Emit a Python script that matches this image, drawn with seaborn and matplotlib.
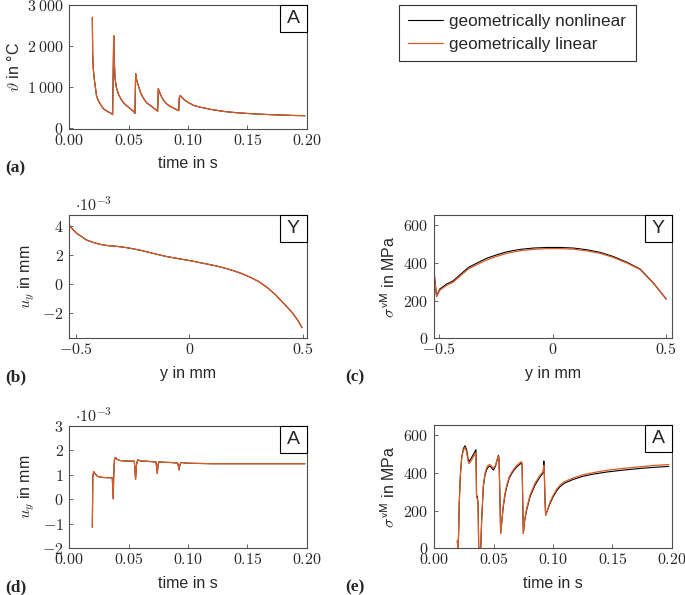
import matplotlib
matplotlib.use("Agg")
import matplotlib.pyplot as plt
from matplotlib.patches import Rectangle
import seaborn as sns

# (a) temperature at point A over time
t_a = [0.0194, 0.0197, 0.0202, 0.0210, 0.0217, 0.0230, 0.0245, 0.0265, 0.0287, 0.0310, 0.0330, 0.0350, 0.0365,
       0.0374, 0.0378, 0.0385, 0.0395, 0.0413, 0.0435, 0.0455, 0.0480, 0.0500, 0.0520, 0.0540, 0.0553,
       0.0559, 0.0565, 0.0582, 0.0600, 0.0615, 0.0632, 0.0652, 0.0675, 0.0694, 0.0715, 0.0736, 0.0744,
       0.0750, 0.0760, 0.0778, 0.0800, 0.0820, 0.0840, 0.0863, 0.0890, 0.0913, 0.0922,
       0.0926, 0.0935, 0.0950, 0.0975, 0.1000, 0.1050, 0.1100, 0.1200, 0.1300, 0.1400, 0.1500, 0.1600,
       0.1700, 0.1800, 0.1900, 0.1985]
temp_a = [2700, 1800, 1450, 1200, 1050, 770, 660, 560, 465, 420, 385, 360, 320,
          2250, 1700, 1230, 1000, 830, 700, 620, 545, 500, 450, 405, 350,
          1320, 1200, 1025, 860, 770, 690, 610, 560, 520, 470, 430, 400,
          960, 870, 750, 650, 585, 540, 505, 465, 430, 420,
          720, 790, 740, 670, 620, 545, 505, 445, 400, 370, 350, 333,
          320, 310, 300, 295]

# (b) displacement u_y along Y (values in 1e-3 mm)
y_b = [-0.528, -0.515, -0.498, -0.475, -0.454, -0.425, -0.395, -0.360, -0.321, -0.285, -0.248, -0.210,
       -0.174, -0.137, -0.100, -0.064, -0.027, 0.010, 0.047, 0.084, 0.121, 0.158, 0.195, 0.232,
       0.269, 0.305, 0.342, 0.379, 0.416, 0.455, 0.480, 0.497]
uy_b = [4.00, 3.75, 3.49, 3.25, 3.03, 2.87, 2.74, 2.65, 2.60, 2.53, 2.43, 2.31,
        2.17, 2.03, 1.90, 1.80, 1.70, 1.60, 1.48, 1.37, 1.25, 1.10, 0.93, 0.73,
        0.48, 0.20, -0.20, -0.70, -1.30, -1.95, -2.50, -2.97]

# (c) von Mises stress along Y
y_c = [-0.522, -0.512, -0.497, -0.468, -0.438, -0.409, -0.372, -0.335, -0.291, -0.247, -0.203, -0.144,
       -0.086, -0.026, 0.032, 0.091, 0.150, 0.209, 0.267, 0.326, 0.385, 0.444, 0.500]
svm_c_nl = [340, 225, 262, 287, 305, 336, 375, 398, 424, 442, 458, 471,
            478, 481, 481, 478, 469, 455, 433, 403, 367, 292, 208]
svm_c_lin = [335, 220, 255, 280, 298, 329, 367, 390, 415, 434, 450, 464,
             471, 475, 475, 472, 463, 450, 428, 399, 364, 290, 207]

# (d) displacement u_y at A over time (values in 1e-3 mm)
t_d = [0.0194, 0.0198, 0.0205, 0.0215, 0.0240, 0.0280, 0.0320, 0.0362, 0.0370, 0.0374, 0.0380, 0.0388,
       0.0400, 0.0425, 0.0480, 0.0548, 0.0553, 0.0558, 0.0566, 0.0576, 0.0600, 0.0650, 0.0730, 0.0736,
       0.0741, 0.0748, 0.0757, 0.0780, 0.0850, 0.0912, 0.0918, 0.0924, 0.0932, 0.0940, 0.1000, 0.1200,
       0.1500, 0.1985]
uy_d = [-1.14, 0.90, 1.13, 1.05, 0.93, 0.89, 0.88, 0.88, 0.02, 0.90, 1.60, 1.71,
        1.64, 1.58, 1.56, 1.55, 1.20, 0.81, 1.40, 1.61, 1.56, 1.55, 1.52, 1.30,
        1.06, 1.40, 1.54, 1.51, 1.50, 1.48, 1.38, 1.20, 1.40, 1.50, 1.47, 1.45,
        1.45, 1.45]

# (e) von Mises stress at A over time
t_e = [0.0194, 0.0198, 0.0204, 0.0210, 0.0220, 0.0231, 0.0245, 0.0259, 0.0272, 0.0284, 0.0292, 0.0310, 0.0330, 0.0351,
       0.0356, 0.0362, 0.0369, 0.0374, 0.0384, 0.0391,
       0.0399, 0.0413, 0.0427, 0.0441, 0.0455, 0.0469, 0.0483, 0.0497, 0.0515, 0.0530, 0.0540, 0.0545, 0.0552, 0.0559,
       0.0570, 0.0581, 0.0595, 0.0610, 0.0630, 0.0652, 0.0675, 0.0694, 0.0712, 0.0728, 0.0735, 0.0740, 0.0745, 0.0750,
       0.0762, 0.0778, 0.0806, 0.0848, 0.0890, 0.0913, 0.0918, 0.0923, 0.0927, 0.0933, 0.0938,
       0.0955, 0.0975, 0.1000, 0.1030, 0.1060, 0.1100, 0.1171, 0.1250, 0.1330, 0.1450, 0.1600, 0.1730, 0.1850, 0.1975]
svm_e_nl = [40, 2, 60, 238, 390, 485, 530, 545, 525, 478, 460, 478, 500, 524,
            282, 275, 240, 0, 0, 0,
            150, 326, 388, 418, 432, 437, 428, 415, 435, 470, 494, 480, 300, 79,
            150, 220, 280, 326, 370, 397, 418, 432, 442, 450, 455, 440, 250, 79,
            150, 203, 273, 335, 379, 397, 405, 464, 400, 250, 176,
            205, 238, 272, 305, 328, 347, 366, 382, 393, 405, 416, 424, 430, 435]
svm_e_lin = [40, 2, 60, 240, 392, 480, 522, 535, 512, 465, 450, 465, 488, 505,
             270, 265, 232, 0, 0, 0,
             152, 335, 398, 428, 442, 445, 436, 425, 440, 472, 490, 476, 298, 79,
             155, 228, 290, 335, 378, 404, 425, 440, 450, 458, 460, 445, 252, 79,
             155, 210, 282, 345, 388, 405, 412, 440, 398, 248, 176,
             208, 245, 280, 313, 336, 355, 374, 390, 401, 414, 425, 433, 440, 445]

time_ticks = [0.0, 0.05, 0.10, 0.15, 0.20]
time_labels = ["$0.00$", "$0.05$", "$0.10$", "$0.15$", "$0.20$"]
y_ticks = [-0.5, 0, 0.5]
y_labels = ["$-0.5$", "$0$", "$0.5$"]

NL_COLOR = "black"
LIN_COLOR = "#dc5b26"

sns.set_style("ticks")
plt.rcParams["font.family"] = ["Liberation Sans", "DejaVu Sans"]
plt.rcParams["mathtext.fontset"] = "cm"
plt.rcParams["axes.edgecolor"] = "0.3"
plt.rcParams["axes.linewidth"] = 0.8

W, H = 685, 595
fig = plt.figure(figsize=(W / 100, H / 100), dpi=100)


def px_axes(left, top, right, bottom):
    return fig.add_axes([left / W, 1 - bottom / H, (right - left) / W, (bottom - top) / H])


def draw(ax, x, y_nl, y_lin):
    sns.lineplot(x=x, y=y_nl, ax=ax, color=NL_COLOR, lw=0.8, sort=False, estimator=None)
    sns.lineplot(x=x, y=y_lin, ax=ax, color=LIN_COLOR, lw=0.9, sort=False, estimator=None)


def style(ax, xlim, ylim, xt, xl, yt, yl, xlabel, ylabel, tag, panel, panel_x):
    ax.set_xlim(*xlim)
    ax.set_ylim(*ylim)
    ax.set_xticks(xt, xl)
    ax.set_yticks(yt, yl)
    ax.tick_params(direction="in", length=3, width=0.6, color="0.3", labelsize=11.5)
    ax.tick_params(axis="x", pad=3)
    ax.tick_params(axis="y", pad=4)
    ax.set_xlabel(xlabel, fontsize=11.5, labelpad=6)
    ax.set_ylabel(ylabel, fontsize=11.5, labelpad=4)
    # tag box in the upper right corner
    bb = ax.get_position()
    wf = 27 / (bb.width * W)
    hf = 27 / (bb.height * H)
    ax.add_patch(Rectangle((1 - wf, 1 - hf), wf, hf, transform=ax.transAxes,
                           fc="white", ec="black", lw=0.8, zorder=5, clip_on=False))
    ax.text(1 - wf / 2, 1 - hf / 2, tag, transform=ax.transAxes, ha="center", va="center",
            fontsize=14, zorder=6)
    bottom_px = (1 - bb.y0) * H
    fig.text(panel_x / W, 1 - (bottom_px + 43) / H, panel, fontsize=12.5, va="baseline",
             family="Liberation Serif", weight="bold")


ax_a = px_axes(69.3, 5, 306.7, 129)
ax_b = px_axes(69.3, 215, 306.7, 338.3)
ax_c = px_axes(434.3, 215, 671.7, 338.3)
ax_d = px_axes(69.3, 425.7, 306.7, 548.3)
ax_e = px_axes(434.3, 425, 671.7, 548.3)

draw(ax_a, t_a, temp_a, temp_a)
draw(ax_b, y_b, uy_b, uy_b)
draw(ax_c, y_c, svm_c_nl, svm_c_lin)
draw(ax_d, t_d, uy_d, uy_d)
draw(ax_e, t_e, svm_e_nl, svm_e_lin)

style(ax_a, (0, 0.2), (-30, 3000), time_ticks, time_labels,
      [0, 1000, 2000, 3000], ["$0$", r"$1\:000$", r"$2\:000$", r"$3\:000$"],
      "time in s", r"$\vartheta$ in °C", "A", "(a)", 5)
style(ax_b, (-0.531, 0.518), (-3.7, 4.75), y_ticks, y_labels,
      [-2, 0, 2, 4], ["$-2$", "$0$", "$2$", "$4$"],
      "y in mm", "$u_y$ in mm", "Y", "(b)", 5)
style(ax_c, (-0.522, 0.524), (0, 653), y_ticks, y_labels,
      [0, 200, 400, 600], ["$0$", "$200$", "$400$", "$600$"],
      "y in mm", r"$\sigma^{\mathsf{vM}}$ in MPa", "Y", "(c)", 345)
style(ax_d, (0, 0.2), (-2, 3), time_ticks, time_labels,
      [-2, -1, 0, 1, 2, 3], ["$-2$", "$-1$", "$0$", "$1$", "$2$", "$3$"],
      "time in s", "$u_y$ in mm", "A", "(d)", 5)
style(ax_e, (0, 0.2), (0, 655), time_ticks, time_labels,
      [0, 200, 400, 600], ["$0$", "$200$", "$400$", "$600$"],
      "time in s", r"$\sigma^{\mathsf{vM}}$ in MPa", "A", "(e)", 345)

for ax in (ax_b, ax_d):
    ax.text(0.025, 1.01, r"$\cdot10^{-3}$", transform=ax.transAxes, ha="left", va="bottom", fontsize=11.5)

lines = ax_a.get_lines()
fig.legend(lines[:2], ["geometrically nonlinear", "geometrically linear"],
           loc="upper left", bbox_to_anchor=(399 / W, 1 - 5 / H), borderaxespad=0,
           fontsize=12.3, frameon=True, fancybox=False, edgecolor="0.2", framealpha=1,
           handlelength=2.0, handletextpad=0.4, borderpad=0.55, labelspacing=0.45)
fig.legends[0].get_frame().set_linewidth(0.8)

fig.savefig("out.png", dpi=100)
